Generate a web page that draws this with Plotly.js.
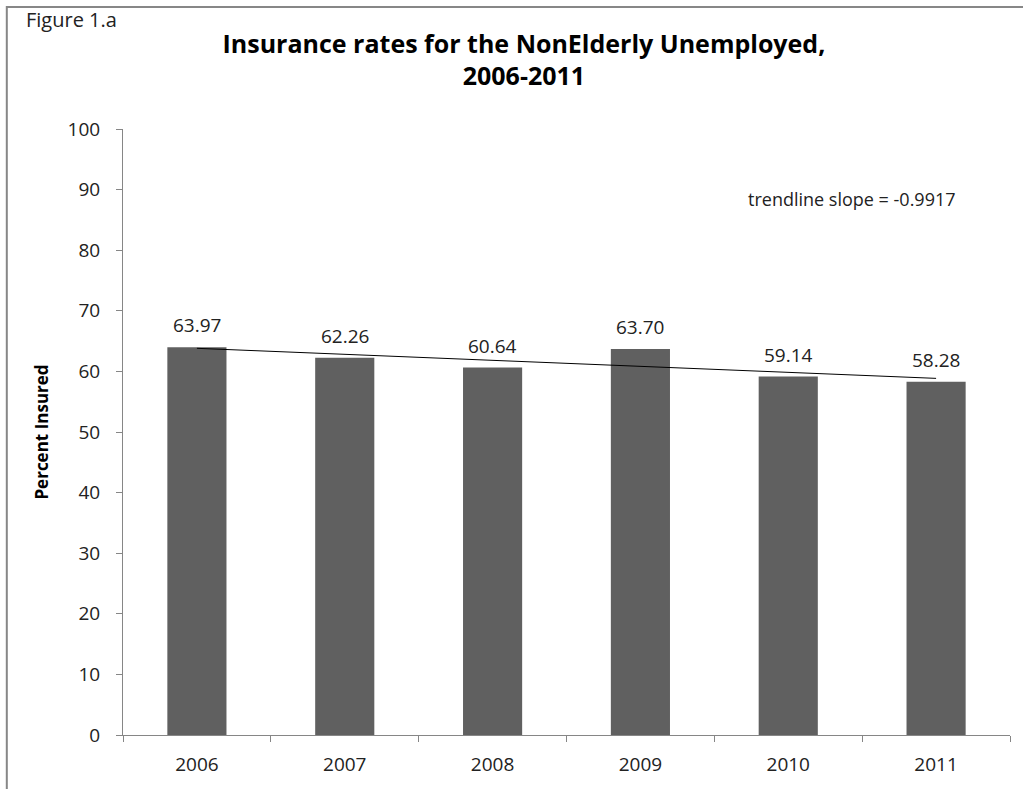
<!DOCTYPE html>
<html>
<head>
<meta charset="utf-8">
<script src="https://cdn.plot.ly/plotly-3.0.1.min.js"></script>
<style>
html,body{margin:0;padding:0;background:#fff;}
#chart{width:1023px;height:789px;}
</style>
</head>
<body>
<div id="chart"></div>
<script>
var years = ['2006','2007','2008','2009','2010','2011'];
var insured = [63.97, 62.26, 60.64, 63.70, 59.14, 58.28];
var labels = ['63.97','62.26','60.64','63.70','59.14','58.28'];
var trendYears = ['2006','2011'];
var trendValues = [63.81, 58.85];
var slopeText = 'trendline slope = -0.9917';

var FONT = '"Open Sans", Lato, sans-serif';

var bars = {
  type: 'bar',
  x: years,
  y: insured,
  marker: {color: '#606060', line: {width: 0}},
  hoverinfo: 'x+y',
  showlegend: false
};
var trend = {
  type: 'scatter',
  mode: 'lines',
  x: trendYears,
  y: trendValues,
  line: {color: '#000000', width: 1},
  hoverinfo: 'skip',
  showlegend: false
};

var annotations = years.map(function(yr, i){
  return {
    x: i, y: insured[i], xref: 'x', yref: 'y',
    text: labels[i], showarrow: false,
    yanchor: 'bottom', yshift: 7,
    font: {family: FONT, size: 19, color: '#222'}
  };
});
annotations.push({
  xref: 'paper', yref: 'paper', x: 0.822, y: 0.885,
  text: slopeText, showarrow: false, xanchor: 'center', yanchor: 'middle',
  font: {family: FONT, size: 18, color: '#222'}
});
annotations.push({
  xref: 'paper', yref: 'paper', x: -0.112, y: 1.18,
  text: 'Figure 1.a', showarrow: false, xanchor: 'left', yanchor: 'middle',
  font: {family: FONT, size: 20, color: '#222'}
});

var layout = {
  width: 1023, height: 789,
  margin: {l: 123, r: 13, t: 129, b: 54, pad: 0},
  paper_bgcolor: '#ffffff', plot_bgcolor: '#ffffff',
  title: {
    text: '<b>Insurance rates for the NonElderly Unemployed,<br>2006-2011</b>',
    x: 0.452, xref: 'paper', xanchor: 'center',
    y: 0.933, yref: 'container', yanchor: 'middle',
    font: {family: FONT, size: 25, color: '#000'}
  },
  bargap: 0.6,
  xaxis: {
    type: 'category',
    range: [-0.5, 5.5],
    showline: true, linecolor: '#868686', linewidth: 1,
    ticks: 'outside', tickson: 'boundaries', ticklen: 6, tickcolor: '#868686',
    ticklabelstandoff: 12,
    showgrid: false, zeroline: false,
    tickfont: {family: FONT, size: 19, color: '#222'}
  },
  yaxis: {
    range: [0, 100], dtick: 10, tick0: 0,
    showline: true, linecolor: '#868686', linewidth: 1,
    ticks: 'outside', ticklen: 6, tickcolor: '#868686',
    ticklabelstandoff: 12,
    showgrid: false, zeroline: false,
    tickfont: {family: FONT, size: 19, color: '#222'},
    title: {text: '<b>Percent Insured</b>', standoff: 14,
            font: {family: FONT, size: 17, color: '#000'}}
  },
  annotations: annotations,
  shapes: [{
    type: 'rect', xref: 'paper', yref: 'paper',
    x0: -0.131, x1: 1.03, y0: -0.12, y1: 1.2015,
    line: {color: '#878787', width: 2}, fillcolor: 'rgba(0,0,0,0)', layer: 'below'
  }]
};

Plotly.newPlot('chart', [bars, trend], layout, {displayModeBar: false, staticPlot: true});
</script>
</body>
</html>
